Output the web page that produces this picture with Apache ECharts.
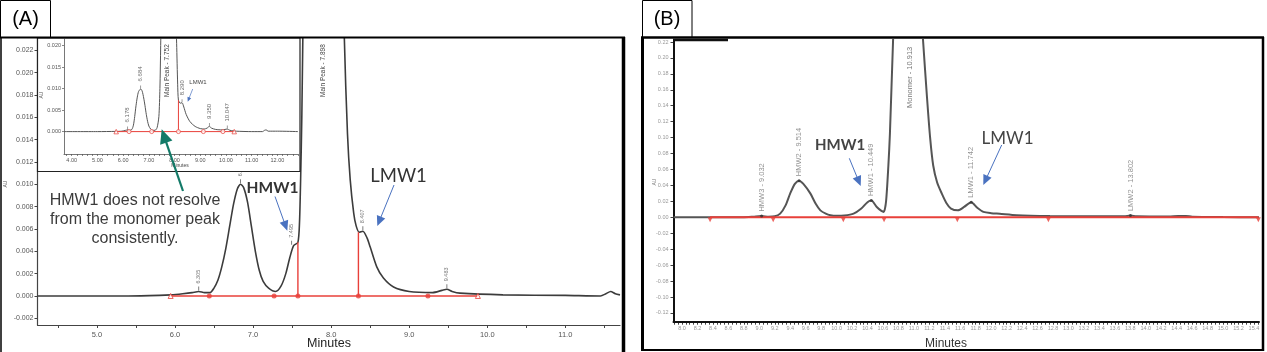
<!DOCTYPE html>
<html><head><meta charset="utf-8">
<script src="https://cdn.jsdelivr.net/npm/echarts@6/dist/echarts.min.js"></script>
<style>html,body{margin:0;padding:0;background:#fff}#c{width:1267px;height:352px}</style>
</head><body><div id="c"></div>
<script>
// ---------- Panel A main chromatogram (minutes, AU) ----------
const curveA = [
[4.24,0],[4.8,0],[5.4,0],[5.8,0.00005],[5.95,0.0001],[6.1,0.0002],[6.22,0.0003],[6.305,0.0004],[6.38,0.0003],[6.45,0.0003],
[6.5,0.0007],[6.55,0.0014],[6.6,0.0026],[6.65,0.0042],[6.7,0.0062],[6.75,0.0082],[6.8,0.0096],[6.84,0.0100],[6.88,0.0097],
[6.93,0.0084],[6.98,0.0062],[7.03,0.0040],[7.08,0.0023],[7.13,0.0013],[7.2,0.0007],[7.29,0.0004],[7.36,0.0009],[7.42,0.0020],
[7.47,0.0034],[7.52,0.0045],[7.575,0.0048],[7.595,0.0065],[7.61,0.0105],[7.625,0.016],[7.645,0.027],[7.7,0.055],[7.8,0.100],
[7.898,0.120],[8.0,0.100],[8.1,0.050],[8.17,0.023],[8.21,0.0145],[8.245,0.0104],[8.29,0.0074],[8.32,0.0063],[8.36,0.0057],
[8.407,0.0058],[8.46,0.0052],[8.5,0.0044],[8.585,0.0026],[8.67,0.0016],[8.8,0.0008],[9.0,0.0004],[9.3,0.0003],[9.42,0.0005],
[9.483,0.0006],[9.55,0.0004],[9.65,0.00025],[10.2,0.0001],[11.0,0.00005],[11.45,0],[11.52,0.0002],[11.58,0.0004],[11.64,0.0002],[11.70,0.0001]
];
const peaksA = [['6.834',6.84,0.0100],['6.305',6.305,0.0004],['7.495',7.495,0.0045],['8.407',8.407,0.0058],['9.483',9.483,0.0006]];
const baselineA = [[5.945,0],[9.88,0]];
const dropA = [[7.575,0.0048],[8.35,0.0057]];
const dotsA = [6.44,7.27,7.575,8.35,9.24];
const trisA = [5.945,9.88];
const xLabelsA = [5,6,7,8,9,10,11];
const xTicksA = [4.5,5,5.5,6,6.5,7,7.5,8,8.5,9,9.5,10,10.5,11,11.5];
const yLabelsA = [-0.002,0,0.002,0.004,0.006,0.008,0.010,0.012,0.014,0.016,0.018,0.020,0.022];

// ---------- Panel A inset ----------
const curveInset = [
[3.7,0],[5.0,0],[5.7,0.00005],[5.95,0.0001],[6.1,0.0003],[6.178,0.0004],[6.26,0.0003],[6.34,0.0005],[6.40,0.0015],[6.45,0.0035],
[6.5,0.0060],[6.55,0.0080],[6.6,0.0093],[6.684,0.0099],[6.74,0.0094],[6.8,0.0078],[6.85,0.0060],[6.9,0.0040],[6.95,0.0024],
[7.0,0.0013],[7.07,0.0006],[7.15,0.0003],[7.24,0.0003],[7.32,0.0009],[7.39,0.0035],[7.43,0.010],[7.46,0.020],[7.52,0.045],
[7.62,0.090],[7.752,0.120],[7.86,0.095],[7.96,0.055],[8.04,0.028],[8.08,0.0205],[8.12,0.011],[8.15,0.0073],[8.22,0.0066],
[8.29,0.0067],[8.36,0.0057],[8.45,0.0040],[8.6,0.0023],[8.8,0.0012],[9.0,0.0007],[9.15,0.0006],[9.26,0.0008],[9.35,0.0012],
[9.44,0.0008],[9.6,0.0005],[9.85,0.0004],[9.96,0.0005],[10.047,0.0006],[10.15,0.0003],[10.4,0.0001],[11.0,0],[11.42,0],
[11.5,0.0003],[11.56,0.0004],[11.64,0.0001],[12.0,0.0001],[12.8,0]
];
const peaksInset = [['6.178',6.178,0.0004],['6.684',6.684,0.0099],['8.290',8.29,0.0067],['9.350',9.35,0.0012],['10.047',10.047,0.0006]];
const baselineInset = [[5.73,0],[10.32,0]];
const dropInset = [[8.15,0.0073]];
const dotsInset = [6.23,7.11,8.15,9.12,9.88];
const trisInset = [5.73,10.32];
const xLabelsInset = [4,5,6,7,8,9,10,11,12];
const yLabelsInset = [0,0.005,0.010,0.015,0.020];

// ---------- Panel B ----------
const curveB = [
[7.89,0],[8.4,0],[8.8,0.0002],[8.92,0.0008],[9.03,0.0015],[9.12,0.0008],[9.2,0.0012],[9.27,0.0046],[9.34,0.015],[9.40,0.030],
[9.46,0.042],[9.514,0.046],[9.57,0.042],[9.66,0.030],[9.73,0.017],[9.79,0.0087],[9.86,0.0045],[9.92,0.0025],[10.0,0.0018],[10.1,0.0022],
[10.22,0.0046],[10.32,0.011],[10.40,0.019],[10.449,0.021],[10.52,0.013],[10.58,0.008],[10.61,0.0068],[10.64,0.02],[10.67,0.065],
[10.69,0.105],[10.73,0.22],[10.8,0.40],[10.913,0.50],[11.0,0.42],[11.08,0.28],[11.12,0.22],[11.17,0.15],[11.21,0.10],[11.25,0.065],
[11.30,0.044],[11.36,0.030],[11.42,0.018],[11.48,0.011],[11.57,0.0088],[11.65,0.013],[11.742,0.019],[11.82,0.012],[11.9,0.0068],
[12.0,0.0052],[12.11,0.0044],[12.33,0.0026],[12.76,0.0016],[13.3,0.0013],[13.72,0.0013],[13.802,0.0022],[13.88,0.0013],[14.3,0.0010],
[14.42,0.0016],[14.52,0.0016],[14.6,0.0008],[15.0,0.0003],[15.465,0]
];
const peaksB = [['HMW3 - 9.032',9.03,0.0015],['HMW2 - 9.514',9.514,0.046],['HMW1 - 10.449',10.449,0.021],['LMW1 - 11.742',11.742,0.019],['LMW2 - 13.802',13.802,0.0022]];
const baselineB = [[8.363,0],[15.456,0]];
const marksB = [8.363,9.18,10.087,10.614,11.562,12.74,15.456];
const xLabelsB = [8.0,8.2,8.4,8.6,8.8,9.0,9.2,9.4,9.6,9.8,10.0,10.2,10.4,10.6,10.8,11.0,11.2,11.4,11.6,11.8,12.0,12.2,12.4,12.6,12.8,13.0,13.2,13.4,13.6,13.8,14.0,14.2,14.4,14.6,14.8,15.0,15.2,15.4];
const yLabelsB = [-0.12,-0.10,-0.08,-0.06,-0.04,-0.02,0,0.02,0.04,0.06,0.08,0.10,0.12,0.14,0.16,0.18,0.20,0.22];

// ---------- helpers ----------
const RED = '#e8403a';
const FF = 'Liberation Sans';
const stepTicks = (a, b, s) => { const r = []; for (let i = 0; a + i * s <= b + 1e-9; i++) r.push(+(a + i * s).toFixed(3)); return r; };

function axisPair(grid, xr, yr, o) {
  return {
    x: { type:'value', gridIndex:grid, min:xr[0], max:xr[1], z:o.z||0,
      axisLine:{show:true, onZero:false, lineStyle:{color:o.lc, width:o.lw}},
      axisTick:{show:true, customValues:o.xt, length:o.tl, lineStyle:{color:o.lc, width:o.tw||1}},
      axisLabel:{customValues:o.xl, formatter:v=>v.toFixed(o.xd), fontSize:o.fs, color:o.tc, margin:o.xm, fontFamily:FF},
      splitLine:{show:false} },
    y: { type:'value', gridIndex:grid, min:yr[0], max:yr[1], z:o.z||0,
      axisLine:{show:true, onZero:false, lineStyle:{color:o.lc, width:o.lw}},
      axisTick:{show:true, customValues:o.yl, length:o.tl, lineStyle:{color:o.lc, width:o.tw||1}},
      axisLabel:{customValues:o.yl, formatter:v=>v.toFixed(o.yd), fontSize:o.yfs||o.fs, color:o.tc, margin:o.ym, fontFamily:FF},
      splitLine:{show:false} }
  };
}
const A = axisPair(0,[4.24,11.70],[-0.0026,0.0231],{lc:'#444',lw:1.2,tl:3,xt:xTicksA,xl:xLabelsA,yl:yLabelsA,xd:1,yd:3,fs:7.5,yfs:7,tc:'#555',xm:6,ym:4});
const I = axisPair(1,[3.7,12.8],[-0.0052,0.0215],{z:10,lc:'#555',lw:0.8,tl:2,tw:0.7,xt:stepTicks(3.8,12.8,0.2),xl:xLabelsInset,yl:yLabelsInset,xd:2,yd:3,fs:5.5,tc:'#555',xm:3,ym:3});
const B = axisPair(2,[7.89,15.465],[-0.131,0.2225],{lc:'#111',lw:2,tl:3,tw:0.8,xt:stepTicks(7.9,15.45,0.05),xl:xLabelsB,yl:yLabelsB,xd:1,yd:2,fs:5.5,tc:'#999',xm:4,ym:5});

function lineS(xi, data, color, width, z, smooth) {
  return {type:'line', xAxisIndex:xi, yAxisIndex:xi, data, showSymbol:false, symbol:'none', silent:true,
    smooth: smooth || false, lineStyle:{color, width}, z, animation:false};
}
function scatterS(xi, data, symbol, size, style, z, extra) {
  return Object.assign({type:'scatter', xAxisIndex:xi, yAxisIndex:xi, data, symbol, symbolSize:size, itemStyle:style, z, silent:true, animation:false}, extra||{});
}
function labelS(xi, peaks, fs, color, tick, z, dist) {
  return {type:'scatter', xAxisIndex:xi, yAxisIndex:xi, z, silent:true, animation:false,
    data: peaks.map(p=>({name:p[0], value:[p[1],p[2]]})),
    symbol: tick.symbol, symbolSize: tick.size, symbolOffset: tick.offset, itemStyle:{color:'#333'},
    labelLayout:{hideOverlap:false},
    label:{show:true, formatter:'{b}', position:'top', distance:dist, rotate:90, align:'left', verticalAlign:'middle', fontSize:fs, color, fontFamily:FF}};
}

const series = [];
// A main
series.push(lineS(0, curveA, '#3c3c3c', 1.6, 2, 0.25));
series.push(lineS(0, baselineA, RED, 1.4, 3));
dropA.forEach(d => series.push(lineS(0, [[d[0],0],[d[0],d[1]]], RED, 1.4, 3)));
series.push(scatterS(0, dotsA.map(t=>[t,0]), 'circle', 5, {color:RED}, 4));
series.push(scatterS(0, trisA.map(t=>[t,0]), 'triangle', 5, {color:'#fff', borderColor:RED, borderWidth:1}, 4));
series.push(labelS(0, peaksA, 5.5, '#555', {symbol:'rect', size:[0.8,4], offset:[0,-3]}, 3, 3));
// inset
series.push(lineS(1, curveInset, '#555', 1, 10, 0.25));
series.push(lineS(1, baselineInset, RED, 1, 11));
dropInset.forEach(d => series.push(lineS(1, [[d[0],0],[d[0],d[1]]], RED, 1, 11)));
series.push(scatterS(1, dotsInset.map(t=>[t,0]), 'circle', 4, {color:'#fff', borderColor:RED, borderWidth:0.9}, 12));
series.push(scatterS(1, trisInset.map(t=>[t,0]), 'triangle', 4.5, {color:'#fff', borderColor:RED, borderWidth:0.9}, 12));
series.push(labelS(1, peaksInset, 6, '#444', {symbol:'rect', size:[0.6,3], offset:[0,-2]}, 12, 4));
// B
series.push(lineS(2, curveB, '#555', 2, 2, 0.25));
series.push(lineS(2, baselineB, RED, 2, 3));
series.push(scatterS(2, marksB.map(t=>[t,0]), 'triangle', 5, {color:RED}, 4, {symbolRotate:180, symbolOffset:[0,2.5]}));
series.push(labelS(2, peaksB, 7.5, '#777', {symbol:'circle', size:3, offset:[0,0]}, 3, 3));

// ---------- annotation graphics ----------
function arrow(x1,y1,x2,y2,len,w,color,lw,z) {
  const dx=x2-x1, dy=y2-y1, L=Math.hypot(dx,dy), ux=dx/L, uy=dy/L;
  const bx=x2-ux*len, by=y2-uy*len, px=-uy*w/2, py=ux*w/2;
  return [
    {type:'line', z, silent:true, shape:{x1,y1,x2:bx+ux*1,y2:by+uy*1}, style:{stroke:color, lineWidth:lw}},
    {type:'polygon', z, silent:true, shape:{points:[[x2,y2],[bx+px,by+py],[bx-px,by-py]]}, style:{fill:color}}
  ];
}
function txt(x,y,text,o) {
  return {type:'text', x, y, z:o.z||20, rotation:o.rot||0, silent:true,
    style:{text, fill:o.c||'#333', fontSize:o.fs, fontFamily:o.ff||FF, fontWeight:o.fw||'normal',
      textAlign:o.al||'center', textVerticalAlign:o.va||'middle', align:o.al||'center', verticalAlign:o.va||'middle', lineHeight:o.lh}};
}
function ln(x1,y1,x2,y2,lw,c,z) { return {type:'line', z:z||30, silent:true, shape:{x1,y1,x2,y2}, style:{stroke:c||'#000', lineWidth:lw}}; }
const V = Math.PI/2;
const BLUE = '#4a72c0', TEAL = '#137a68';

const graphics = [
  {type:'rect', z:30, silent:true, shape:{x:0.5,y:0.5,width:50,height:37}, style:{fill:'none', stroke:'#000', lineWidth:1}},
  txt(25.5,19,'(A)',{fs:20,c:'#000',z:30}),
  {type:'rect', z:30, silent:true, shape:{x:642.5,y:0.5,width:49.5,height:37}, style:{fill:'none', stroke:'#000', lineWidth:1}},
  txt(667,19,'(B)',{fs:20,c:'#000',z:30}),
  ln(0,37.5,625,37.5,2), ln(1,37,1,352,1.5), ln(623.5,37,623.5,352,3.5),
  ln(641,37.5,1264,37.5,2.5), ln(642.5,37,642.5,351,3), ln(1263,37,1263,351,2.5), ln(641,350,1264,350,2),
  ln(673,40,728,40,2.5,'#111',25),
  {type:'rect', z:5, silent:true, shape:{x:37.5,y:38,width:262.5,height:133.5}, style:{fill:'#fff', stroke:'#222', lineWidth:1.2}},
  txt(6,184,'AU',{fs:5,c:'#555',rot:V}),
  txt(41.5,95,'AU',{fs:5,c:'#555',rot:V,z:15}),
  txt(655,182,'AU',{fs:5,c:'#777',rot:V}),
  txt(329,344,'Minutes',{fs:12.5,c:'#222'}),
  txt(180,166,'Minutes',{fs:5,c:'#444',z:15}),
  txt(946,344,'Minutes',{fs:12,c:'#333'}),
  txt(323,97,'Main Peak - 7.898',{fs:6.5,c:'#444',rot:V,al:'left',z:6}),
  txt(167.5,97,'Main Peak - 7.752',{fs:6.5,c:'#444',rot:V,al:'left',z:15}),
  txt(909.5,108,'Monomer - 10.913',{fs:7.5,c:'#777',rot:V,al:'left',z:6}),
  txt(135,191,'HMW1 does not resolve\nfrom the monomer peak\nconsistently.',{fs:16,c:'#3b3b3b',lh:19,va:'top'}),
  txt(272.5,187.5,'HMW1',{fs:15.5,c:'#333',ff:'Lato',fw:'bold'}),
  txt(398.5,176,'LMW1',{fs:18.5,c:'#333',ff:'Lato'}),
  txt(198,82,'LMW1',{fs:6,c:'#444',z:15}),
  txt(840,145,'HMW1',{fs:15,c:'#444',ff:'Lato',fw:'bold'}),
  txt(1007.5,138.5,'LMW1',{fs:17,c:'#444',ff:'Lato'}),
  ...arrow(183,191,161.7,129.3,14,13,TEAL,2.2,20),
  ...arrow(275,196.5,287.3,230.7,10,9,BLUE,1,20),
  ...arrow(394,185,377.3,226,10,9,BLUE,1,20),
  ...arrow(192.7,89,187.7,101.7,4.5,4,BLUE,0.7,20),
  ...arrow(849.3,158.3,860.7,186,10,9,BLUE,1,20),
  ...arrow(1001.7,145,983.3,185,10,9,BLUE,1,20)
];

const chart = echarts.init(document.getElementById('c'), null, {renderer:'canvas'});
chart.setOption({
  animation:false,
  backgroundColor:'#fff',
  textStyle:{fontFamily:FF},
  grid:[
    {left:37.5, top:38, width:582.5, height:287},
    {left:64, top:39, width:234, height:115},
    {left:673.5, top:40, width:585.5, height:281.7}
  ],
  xAxis:[A.x, I.x, B.x],
  yAxis:[A.y, I.y, B.y],
  series,
  graphic:{elements:graphics}
});
</script></body></html>
